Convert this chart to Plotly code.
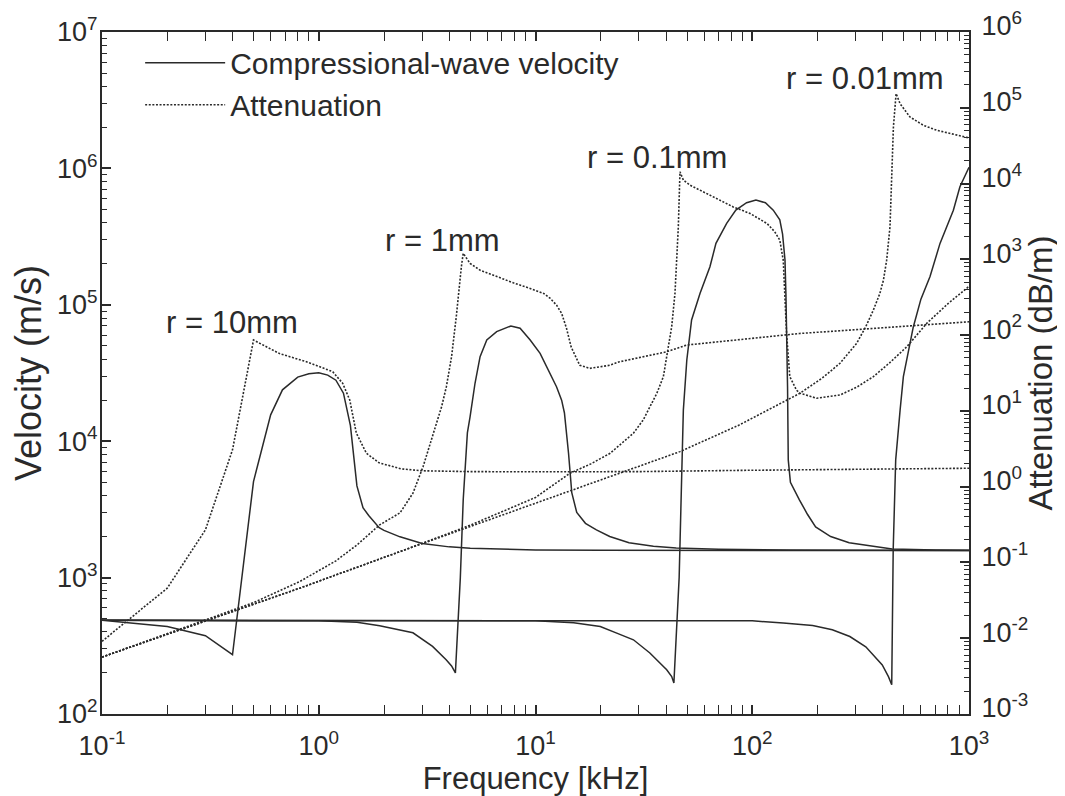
import plotly.graph_objects as go

# ---------------- data ----------------
# Compressional-wave velocity (m/s) vs frequency (kHz)
f_v10 = [0.1, 0.2, 0.3, 0.4, 0.5, 0.6, 0.68, 0.8, 0.9, 1.0, 1.1, 1.16, 1.2, 1.3, 1.4, 1.5, 1.6, 1.7,
         1.8, 1.9, 2.0, 2.37, 3.0, 4.0, 5.0, 7.0, 10, 20, 100, 1000]
v10 = [486, 438, 375, 272, 5060, 15600, 23800, 29500, 31200, 31800, 30500, 29100, 28000, 22500,
       13000, 4700, 3250, 2850, 2550, 2320, 2220, 1990, 1780, 1680, 1640, 1610, 1595, 1585, 1580, 1578]

f_v1 = [0.1, 1.0, 1.5, 1.91, 2.72, 3.35, 3.87, 4.1, 4.27, 4.5, 4.64, 4.73, 4.85, 4.99, 5.26, 5.55,
        5.96, 6.62, 7.7, 8.49, 9.45, 10.5, 11.7, 12.5, 13.2, 13.6, 14.2, 14.7, 15.5, 17.0, 19.1, 22,
        27, 35, 44.6, 70, 150, 1000]
v1 = [486, 482, 470, 444, 394, 313, 250, 225, 200, 1000, 3720, 6520, 11500, 15100, 26600, 41700,
      55200, 63600, 70000, 67300, 55200, 44100, 31500, 25100, 20000, 16100, 8200, 4200, 3000, 2500,
      2240, 2000, 1800, 1700, 1650, 1615, 1595, 1580]

f_v01 = [0.1, 10, 15, 19.9, 23.7, 28.3, 33.7, 40.3, 42.5, 43.5, 46.0, 47.2, 48.1, 49.9, 52.5, 57.4,
         63.8, 68, 76.2, 84, 94.2, 104, 115, 125, 134, 138, 141.6, 143, 144, 145.5, 146.6, 150,
         165, 180, 196, 230, 280, 350, 442, 700, 1000]
v01 = [486, 482, 466, 438, 392, 350, 280, 211, 188, 169, 1000, 7300, 16900, 39400, 77400, 121000,
       190000, 282000, 395000, 495000, 560000, 586000, 560000, 494000, 420000, 330000, 213000,
       120000, 69000, 25000, 7300, 5000, 3720, 2900, 2350, 2000, 1800, 1700, 1620, 1595, 1585]

f_v001 = [0.1, 81, 100, 139, 190, 234, 282, 334, 398, 425, 440, 447, 459, 481, 498, 553, 600, 661,
          735, 847, 908, 1000]
v001 = [486, 486, 482, 465, 445, 415, 370, 311, 229, 188, 164, 1600, 7300, 16900, 29700, 68500,
        110000, 161000, 282000, 494000, 733000, 1020000]

# Attenuation (dB/m) vs frequency (kHz)
f_a10 = [0.1, 0.2, 0.3, 0.4, 0.5, 0.66, 0.877, 1.16, 1.29, 1.39, 1.49, 1.66, 1.9, 2.4, 3, 5, 10,
         30, 87, 300, 1000]
a10 = [0.0091, 0.0458, 0.269, 3.06, 86, 57, 44.5, 32.9, 23.1, 13.9, 5.1, 2.76, 2.06, 1.72, 1.62,
       1.58, 1.57, 1.58, 1.64, 1.70, 1.75]

f_a1 = [0.1, 0.3, 0.5, 0.817, 1.2, 1.5, 1.91, 2.37, 2.72, 3.03, 3.37, 3.69, 3.88, 4.10, 4.31, 4.45,
        4.55, 4.64, 4.99, 5.54, 6.62, 7.9, 9.45, 10.9, 11.7, 12.5, 13.2, 13.9, 14.6, 15.5, 16.0,
        17.8, 19.7, 22, 24.4, 40, 49.9, 87, 165, 400, 1000]
a1 = [0.00564, 0.0172, 0.0295, 0.056, 0.105, 0.17, 0.313, 0.451, 0.82, 1.84, 5.07, 11.4, 20.9, 52,
      175, 480, 800, 1200, 884, 721, 589, 490, 413, 355, 305, 249, 194, 123, 70, 47, 40,
      36.4, 38.3, 40, 44.5, 60, 74, 88, 105, 125, 150]

f_a01 = [0.1, 0.817, 2.37, 5, 10, 14.4, 18, 22.1, 28.3, 31.4, 36.3, 38.9, 41.0, 42.5, 44.0, 44.8,
         45.6, 46.4, 48.1, 51.7, 57.4, 68.6, 81.7, 97.7, 117, 127, 134, 139, 141.6, 144, 149, 160,
         166, 198, 254, 303, 362, 430, 516, 638, 800, 975, 1000]
a01 = [0.00564, 0.0458, 0.139, 0.31, 0.72, 1.5, 2.0, 2.76, 5.07, 7.6, 17.1, 28.3, 70, 129, 355,
       975, 2690, 14300, 11100, 9500, 8170, 6350, 4920, 4030, 2970, 2310, 1790, 975, 355, 105,
       28.3, 18.8, 17.1, 14.7, 16.2, 20.5, 28.3, 43, 70, 143, 260, 413, 440]

f_a001 = [0.1, 0.817, 2.37, 10, 46.4, 87, 141, 166, 210, 254, 303, 334, 362, 388, 403, 417, 432,
          440, 448, 461, 481, 534, 615, 710, 847, 955, 1000]
a001 = [0.00564, 0.0458, 0.139, 0.60, 2.9, 6.5, 13.2, 17.1, 27, 42.5, 77.8, 129, 214, 355, 532,
        975, 2680, 12200, 55800, 154000, 113000, 75700, 58800, 50500, 44800, 40400, 40000]

radius_labels = ["r = 10mm", "r = 1mm", "r = 0.1mm", "r = 0.01mm"]

x_ticks = [0.1, 1, 10, 100, 1000]
x_ticktext = ["10<sup>-1</sup>", "10<sup>0</sup>", "10<sup>1</sup>", "10<sup>2</sup>", "10<sup>3</sup>"]
y_ticks = [1e2, 1e3, 1e4, 1e5, 1e6, 1e7]
y_ticktext = ["10<sup>2</sup>", "10<sup>3</sup>", "10<sup>4</sup>", "10<sup>5</sup>", "10<sup>6</sup>", "10<sup>7</sup>"]
y2_ticks = [1e-3, 1e-2, 1e-1, 1e0, 1e1, 1e2, 1e3, 1e4, 1e5, 1e6]
y2_ticktext = ["10<sup>-3</sup>", "10<sup>-2</sup>", "10<sup>-1</sup>", "10<sup>0</sup>", "10<sup>1</sup>",
               "10<sup>2</sup>", "10<sup>3</sup>", "10<sup>4</sup>", "10<sup>5</sup>", "10<sup>6</sup>"]

# ---------------- figure ----------------
INK = "#2a2a2a"
FONT = "Liberation Sans, Arial, sans-serif"

# The page body has an 8px margin, so the figure starts at (8, 8) in the window.
W, H = 1057, 788
PL, PR, PT, PB = 94, 961, 24, 706  # plot area in figure pixels


def minor_vals(lo, hi):
    vals = []
    for d in range(lo, hi):
        for k in range(2, 10):
            vals.append(k * 10 ** d)
    return vals


fig = go.Figure()

vel_sets = [(f_v10, v10), (f_v1, v1), (f_v01, v01), (f_v001, v001)]
att_sets = [(f_a10, a10), (f_a1, a1), (f_a01, a01), (f_a001, a001)]

for i, (fx, vy) in enumerate(vel_sets):
    fig.add_trace(go.Scatter(
        x=fx, y=vy, mode="lines", name="Compressional-wave velocity",
        legendgroup="vel", showlegend=(i == 0),
        line=dict(color=INK, width=1.5), yaxis="y"))

for i, (fx, ay) in enumerate(att_sets):
    fig.add_trace(go.Scatter(
        x=fx, y=ay, mode="lines", name="Attenuation",
        legendgroup="att", showlegend=(i == 0),
        line=dict(color=INK, width=1.6, dash="2px,1.6px"), yaxis="y2"))

# radius labels (page-pixel estimates converted to paper coords)
lab_pos = [(232, 323), (442, 241), (657, 158), (865, 78)]
X0, X1, Y0, Y1 = 102, 969, 32, 714
for txt, (px, py) in zip(radius_labels, lab_pos):
    fig.add_annotation(
        x=(px - X0) / (X1 - X0), y=(Y1 - py) / (Y1 - Y0), xref="paper", yref="paper",
        text=txt, showarrow=False, font=dict(size=31, color=INK, family=FONT),
        xanchor="center", yanchor="middle")

axis_common = dict(
    type="log", showgrid=False, zeroline=False, showline=True, linecolor=INK, linewidth=2,
    ticks="inside", ticklen=9, tickwidth=1.5, tickcolor=INK,
    tickfont=dict(size=27, color=INK, family=FONT),
)

fig.update_layout(
    width=W, height=H,
    margin=dict(l=PL, r=W - PR, t=PT, b=H - PB),
    paper_bgcolor="white", plot_bgcolor="white",
    font=dict(family=FONT, color=INK),
    showlegend=True,
    legend=dict(x=0.044, y=0.993, xanchor="left", yanchor="top",
                bgcolor="rgba(0,0,0,0)", font=dict(size=30, color=INK, family=FONT),
                itemwidth=80, tracegroupgap=0),
    xaxis=dict(
        **axis_common, range=[-1, 3], mirror="allticks",
        tickmode="array", tickvals=x_ticks, ticktext=x_ticktext,
        minor=dict(tickmode="array", tickvals=minor_vals(-1, 3), ticks="inside", ticklen=5,
                   tickwidth=1.2, tickcolor=INK),
        title=dict(text="Frequency [kHz]", font=dict(size=31, color=INK, family=FONT), standoff=3),
        automargin=False, ticklabelstandoff=7,
    ),
    yaxis=dict(
        **axis_common, range=[2, 7],
        tickmode="array", tickvals=y_ticks, ticktext=y_ticktext,
        minor=dict(tickmode="array", tickvals=minor_vals(2, 7), ticks="inside", ticklen=5,
                   tickwidth=1.2, tickcolor=INK),
        title=dict(text="Velocity (m/s)", font=dict(size=36, color=INK, family=FONT), standoff=4),
        automargin=False, ticklabelstandoff=-3,
    ),
    yaxis2=dict(
        **axis_common, range=[-3, 6], overlaying="y", side="right",
        tickmode="array", tickvals=y2_ticks, ticktext=y2_ticktext,
        minor=dict(tickmode="array", tickvals=minor_vals(-3, 6), ticks="inside", ticklen=5,
                   tickwidth=1.2, tickcolor=INK),
        title=dict(text="Attenuation (dB/m)", font=dict(size=33, color=INK, family=FONT), standoff=0),
        automargin=False, ticklabelstandoff=5, ticklabelshift=-6, ticklabeloverflow="allow",
    ),
)

fig.write_html("out.html")
